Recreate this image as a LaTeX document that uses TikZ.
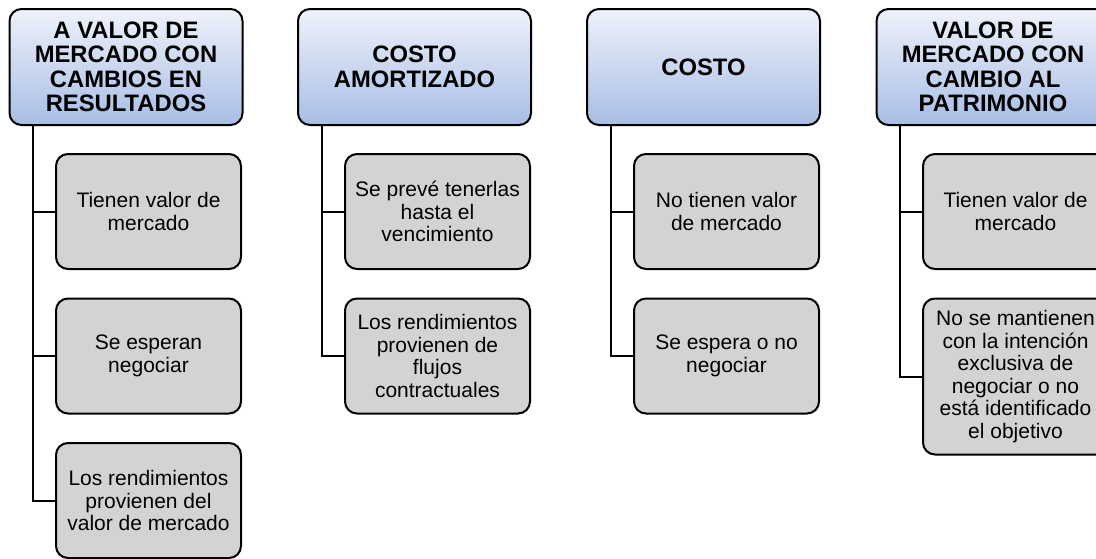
\documentclass[tikz,border=0pt]{standalone}
\usepackage{fontspec}
\setmainfont{Liberation Sans}
\definecolor{hdtop}{HTML}{EEF2FA}
\definecolor{hdbot}{HTML}{A8BDE5}
\definecolor{chfill}{HTML}{D3D3D3}
\tikzset{
  hdr/.style={draw=black, line width=2pt, rounded corners=12pt, top color=hdtop, bottom color=hdbot,
    minimum width=233pt, minimum height=116pt, anchor=north west, align=center,
    inner sep=2pt, font=\bfseries\fontsize{23.8}{24.5}\selectfont},
  chld/.style={draw=black, line width=2pt, rounded corners=12pt, fill=chfill,
    minimum width=185pt, minimum height=115pt, anchor=north west, align=center,
    inner sep=2pt, font=\fontsize{21}{22.6}\selectfont},
  conn/.style={draw=black, line width=2pt}
}
\begin{document}
\begin{tikzpicture}[x=1pt,y=-1pt]
\useasboundingbox (0,0) rectangle (1096,558);
\clip (0,0) rectangle (1096,558);
% column 1
\node[hdr] (h1) at (8.5,8) {A VALOR DE\\MERCADO CON\\CAMBIOS EN\\RESULTADOS};
\node[chld] (c11) at (55,153) {Tienen valor de\\mercado};
\node[chld] (c12) at (55,297.5) {Se esperan\\negociar};
\node[chld] (c13) at (55,442) {Los rendimientos\\provienen del\\valor de mercado};
\coordinate (t1) at (33,124);
% column 2
\node[hdr] (h2) at (297,8) {COSTO\\AMORTIZADO};
\node[chld] (c21) at (344,153) {Se prevé tenerlas\\hasta el\\vencimiento};
\node[chld] (c22) at (344,297.5) {Los rendimientos\\provienen de\\flujos\\contractuales};
\coordinate (t2) at (322,124);
% column 3
\node[hdr] (h3) at (586,8) {COSTO};
\node[chld] (c31) at (633,153) {No tienen valor\\de mercado};
\node[chld] (c32) at (633,297.5) {Se espera o no\\negociar};
\coordinate (t3) at (611,124);
% column 4
\node[hdr] (h4) at (875.5,8) {VALOR DE\\MERCADO CON\\CAMBIO AL\\PATRIMONIO};
\node[chld] (c41) at (922,153) {Tienen valor de\\mercado};
\node[chld, minimum height=156pt] (c42) at (922,297.5) {No se mantienen\\con la intención\\exclusiva de\\negociar o no\\está identificado\\el objetivo};
\coordinate (t4) at (900,124);
% connectors
\draw[conn] (t1) |- (c11.west);
\draw[conn] (t1) |- (c12.west);
\draw[conn] (t1) |- (c13.west);
\draw[conn] (t2) |- (c21.west);
\draw[conn] (t2) |- (c22.west);
\draw[conn] (t3) |- (c31.west);
\draw[conn] (t3) |- (c32.west);
\draw[conn] (t4) |- (c41.west);
\draw[conn] (t4) |- (c42.west);
\end{tikzpicture}
\end{document}
